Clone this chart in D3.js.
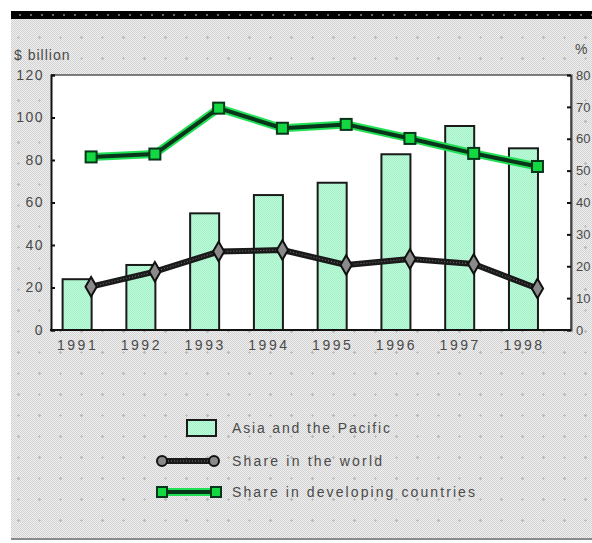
<!DOCTYPE html>
<html>
<head>
<meta charset="utf-8">
<script src="https://cdn.jsdelivr.net/npm/d3@7"></script>
<style>
  html, body { margin: 0; padding: 0; background: #fff; }
  svg { display: block; }
  text { font-family: "Liberation Sans", Arial, sans-serif; fill: #4a4a4a; }
</style>
</head>
<body>
<div id="chart"></div>
<script>
// Foreign direct investment inflows, Asia and the Pacific
const years = ["1991", "1992", "1993", "1994", "1995", "1996", "1997", "1998"];
const asiaPacific = [23.9, 30.6, 54.9, 63.5, 69.3, 82.7, 96.0, 85.5];      // $ billion
const shareWorld = [13.6, 18.3, 24.6, 25.1, 20.4, 22.3, 20.7, 13.0];       // %
const shareDeveloping = [54.3, 55.2, 69.6, 63.3, 64.5, 60.1, 55.4, 51.3];  // %
const leftTicks = [0, 20, 40, 60, 80, 100, 120];
const rightTicks = [0, 10, 20, 30, 40, 50, 60, 70, 80];
const legendLabels = ["Asia and the Pacific", "Share in the world", "Share in developing countries"];

const W = 592, H = 543;
const plot = { left: 51, right: 571, top: 75, bottom: 330 };

const svg = d3.select("#chart").append("svg").attr("width", W).attr("height", H);
const defs = svg.append("defs");

// dithered grey panel with faint plus marks
const pat = defs.append("pattern").attr("id", "dither").attr("width", 2).attr("height", 2)
  .attr("patternUnits", "userSpaceOnUse");
pat.append("rect").attr("width", 2).attr("height", 2).attr("fill", "#efefef");
pat.append("rect").attr("x", 0).attr("y", 0).attr("width", 1).attr("height", 1).attr("fill", "#d2d2d2");
pat.append("rect").attr("x", 1).attr("y", 1).attr("width", 1).attr("height", 1).attr("fill", "#d2d2d2");

const plus = defs.append("pattern").attr("id", "plus").attr("width", 21).attr("height", 21)
  .attr("patternUnits", "userSpaceOnUse").attr("x", 8).attr("y", 6);
plus.append("rect").attr("x", 9).attr("y", 10).attr("width", 3).attr("height", 1).attr("fill", "#bbbbbb");
plus.append("rect").attr("x", 10).attr("y", 9).attr("width", 1).attr("height", 3).attr("fill", "#bbbbbb");

const barDots = defs.append("pattern").attr("id", "bardots").attr("width", 11).attr("height", 8)
  .attr("patternUnits", "userSpaceOnUse").attr("x", 4).attr("y", 11);
barDots.append("rect").attr("width", 11).attr("height", 8).attr("fill", "#000");
barDots.append("rect").attr("x", 4).attr("y", 3).attr("width", 2).attr("height", 2).attr("fill", "#666");

const mint = defs.append("pattern").attr("id", "mint").attr("width", 2).attr("height", 2)
  .attr("patternUnits", "userSpaceOnUse");
mint.append("rect").attr("width", 2).attr("height", 2).attr("fill", "#c2fadb");
mint.append("rect").attr("width", 1).attr("height", 1).attr("fill", "#9ff2c6");
mint.append("rect").attr("x", 1).attr("y", 1).attr("width", 1).attr("height", 1).attr("fill", "#9ff2c6");

// panel
svg.append("rect").attr("x", 11).attr("y", 19).attr("width", W - 11).attr("height", 520).attr("fill", "url(#dither)");
svg.append("rect").attr("x", 11).attr("y", 19).attr("width", W - 11).attr("height", 520).attr("fill", "url(#plus)");
svg.append("rect").attr("x", 11).attr("y", 11).attr("width", W - 11).attr("height", 8).attr("fill", "url(#bardots)");
svg.append("rect").attr("x", 11).attr("y", 538).attr("width", W - 11).attr("height", 2).attr("fill", "#8a8a8a");

// scales
const x = d3.scaleBand().domain(years).range([plot.left, plot.right])
  .paddingInner(0.545).paddingOuter(0.35).align(0.26);
const lineOffset = 14;
const xc = d => x(d) + x.bandwidth() / 2;
const xl = d => xc(d) + lineOffset;
const yLeft = d3.scaleLinear().domain([0, 120]).range([plot.bottom, plot.top]);
const yRight = d3.scaleLinear().domain([0, 80]).range([plot.bottom, plot.top]);

// plot area
svg.append("rect").attr("x", plot.left).attr("y", plot.top)
  .attr("width", plot.right - plot.left).attr("height", plot.bottom - plot.top).attr("fill", "#fff");
svg.append("line").attr("x1", plot.left).attr("x2", plot.right).attr("y1", plot.top).attr("y2", plot.top)
  .attr("stroke", "#555").attr("stroke-width", 1.5);
svg.append("line").attr("x1", plot.right).attr("x2", plot.right).attr("y1", plot.top).attr("y2", plot.bottom)
  .attr("stroke", "#555").attr("stroke-width", 1.5);

// bars
svg.append("g").selectAll("rect").data(years).join("rect")
  .attr("x", d => x(d))
  .attr("y", (d, i) => yLeft(asiaPacific[i]))
  .attr("width", x.bandwidth())
  .attr("height", (d, i) => yLeft(0) - yLeft(asiaPacific[i]))
  .attr("fill", "url(#mint)")
  .attr("stroke", "#1a1a1a").attr("stroke-width", 2);

// axes
const axisLeft = d3.axisLeft(yLeft).tickValues(leftTicks).tickSize(-4).tickPadding(7);
const gL = svg.append("g").attr("transform", `translate(${plot.left},0)`).call(axisLeft);
gL.select(".domain").attr("stroke", "#111").attr("stroke-width", 2);
gL.selectAll(".tick line").attr("stroke", "#111").attr("stroke-width", 2);
gL.selectAll(".tick text").attr("font-size", 14).attr("letter-spacing", 1.5)
  .attr("fill", "#4a4a4a").style("font-family", "Liberation Sans, Arial, sans-serif");

const axisRight = d3.axisRight(yRight).tickValues(rightTicks).tickSize(-4).tickPadding(5);
const gR = svg.append("g").attr("transform", `translate(${plot.right},0)`).call(axisRight);
gR.select(".domain").attr("stroke", "#444").attr("stroke-width", 2);
gR.selectAll(".tick line").attr("stroke", "#111").attr("stroke-width", 2);
gR.selectAll(".tick text").attr("font-size", 13)
  .attr("fill", "#4a4a4a").style("font-family", "Liberation Sans, Arial, sans-serif");

const axisBottom = d3.axisBottom(d3.scalePoint().domain(years).range([xc(years[0]), xc(years[years.length - 1])]))
  .tickSize(0).tickPadding(10);
const gB = svg.append("g").attr("transform", `translate(0,${plot.bottom})`).call(axisBottom);
gB.select(".domain").remove();
svg.append("line").attr("x1", plot.left - 1).attr("x2", plot.right).attr("y1", plot.bottom).attr("y2", plot.bottom)
  .attr("stroke", "#111").attr("stroke-width", 2);
gB.selectAll(".tick text").attr("font-size", 14).attr("letter-spacing", 2.5)
  .attr("fill", "#4a4a4a").style("font-family", "Liberation Sans, Arial, sans-serif");

// axis titles
svg.append("text").attr("x", 14).attr("y", 60).attr("font-size", 14).attr("letter-spacing", 1)
  .text("$ billion");
svg.append("text").attr("x", 575).attr("y", 54).attr("font-size", 14).text("%");

// share in developing countries
const lineDev = d3.line().x(d => xl(d[0])).y(d => yRight(d[1]));
const devPts = years.map((y, i) => [y, shareDeveloping[i]]);
svg.append("path").datum(devPts).attr("d", lineDev).attr("fill", "none")
  .attr("stroke", "#22e055").attr("stroke-width", 8).attr("stroke-linejoin", "round");
svg.append("path").datum(devPts).attr("d", lineDev).attr("fill", "none")
  .attr("stroke", "#08361a").attr("stroke-width", 4).attr("stroke-linejoin", "round");
svg.append("g").selectAll("rect").data(devPts).join("rect")
  .attr("x", d => xl(d[0]) - 5.5).attr("y", d => yRight(d[1]) - 5.5)
  .attr("width", 11).attr("height", 11)
  .attr("fill", "#14d842").attr("stroke", "#08361a").attr("stroke-width", 2);

// share in the world
const lineWorld = d3.line().x(d => xl(d[0])).y(d => yRight(d[1]));
const worldPts = years.map((y, i) => [y, shareWorld[i]]);
svg.append("path").datum(worldPts).attr("d", lineWorld).attr("fill", "none")
  .attr("stroke", "#1a1a1a").attr("stroke-width", 6).attr("stroke-linejoin", "round");
svg.append("path").datum(worldPts).attr("d", lineWorld).attr("fill", "none")
  .attr("stroke", "#777").attr("stroke-width", 1).attr("stroke-dasharray", "1,2");
svg.append("g").selectAll("path").data(worldPts).join("path")
  .attr("transform", d => `translate(${xl(d[0])},${yRight(d[1])})`)
  .attr("d", d3.symbol().type(d3.symbolDiamond).size(110))
  .attr("fill", "#8a8a8a").attr("stroke", "#111").attr("stroke-width", 2);

// legend
const lg = svg.append("g");
lg.append("rect").attr("x", 187).attr("y", 420).attr("width", 29).attr("height", 16)
  .attr("fill", "url(#mint)").attr("stroke", "#1a1a1a").attr("stroke-width", 2);

lg.append("line").attr("x1", 162).attr("x2", 214).attr("y1", 461).attr("y2", 461)
  .attr("stroke", "#1a1a1a").attr("stroke-width", 6);
lg.append("line").attr("x1", 162).attr("x2", 214).attr("y1", 461).attr("y2", 461)
  .attr("stroke", "#777").attr("stroke-width", 1).attr("stroke-dasharray", "1,2");
[162, 214].forEach(cx => lg.append("circle").attr("cx", cx).attr("cy", 461).attr("r", 5)
  .attr("fill", "#8a8a8a").attr("stroke", "#111").attr("stroke-width", 2));

lg.append("line").attr("x1", 162).attr("x2", 216).attr("y1", 492).attr("y2", 492)
  .attr("stroke", "#22e055").attr("stroke-width", 8);
lg.append("line").attr("x1", 162).attr("x2", 216).attr("y1", 492).attr("y2", 492)
  .attr("stroke", "#08361a").attr("stroke-width", 4);
[162, 216].forEach(cx => lg.append("rect").attr("x", cx - 5).attr("y", 487).attr("width", 10).attr("height", 10)
  .attr("fill", "#14d842").attr("stroke", "#08361a").attr("stroke-width", 2));

const legendY = [433, 466, 497];
const legendW = [158, 150, 243];
legendLabels.forEach((t, i) => {
  lg.append("text").attr("x", 232).attr("y", legendY[i]).attr("font-size", 14)
    .attr("textLength", legendW[i]).attr("lengthAdjust", "spacing").text(t);
});
</script>
</body>
</html>
